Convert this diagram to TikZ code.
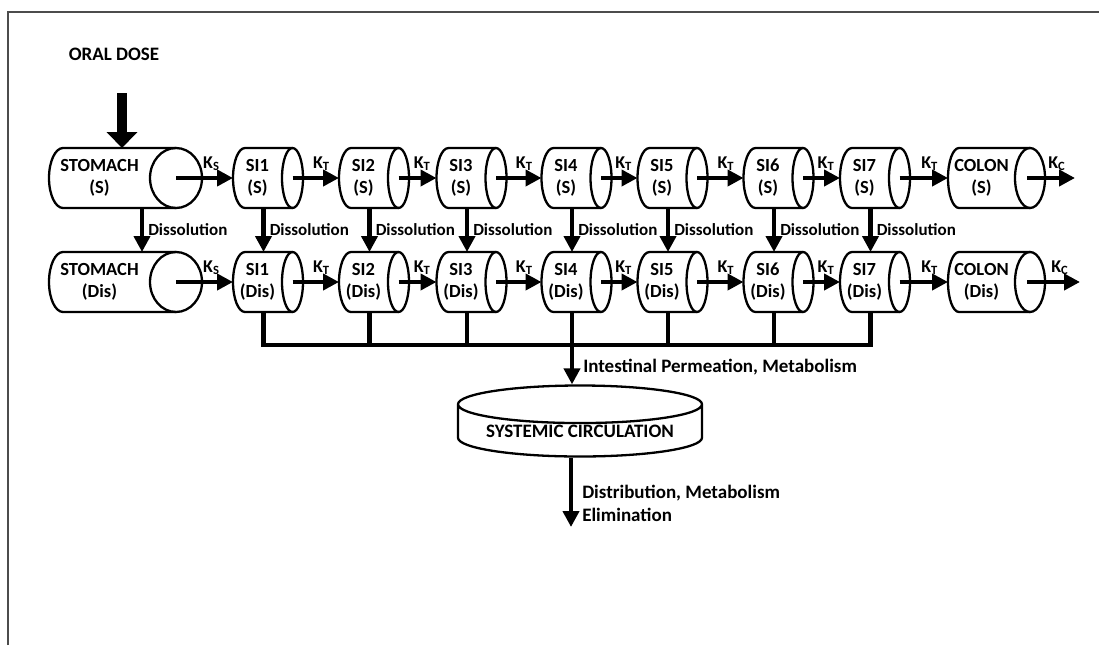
\documentclass[tikz,border=0pt]{standalone}
\usepackage{fontspec}
\setmainfont{Carlito}
\usepackage{tikz}
\usetikzlibrary{shapes.geometric}
\usetikzlibrary{positioning}
\usetikzlibrary{arrows.meta}

\tikzset{
  face/.style={rectangle, inner sep=0pt, outer sep=0pt, align=center, minimum height=60pt,
    font=\bfseries\fontsize{18.5}{22}\selectfont},
  stom/.style={face, minimum width=101pt},
  si/.style={face, minimum width=49pt},
  col/.style={face, minimum width=67pt},
  outline/.style={line width=2.3pt},
  flow/.style={line width=4.5pt, -{Triangle[length=16pt,width=16pt]}},
  big/.style={line width=10pt, -{Triangle[length=16pt,width=30pt]}},
  wire/.style={line width=4.5pt},
  lbl/.style={font=\bfseries\fontsize{17}{20}\selectfont, inner sep=1pt},
  rate/.style={font=\bfseries\fontsize{18}{20}\selectfont, inner sep=1pt},
  note/.style={font=\bfseries\fontsize{19}{23}\selectfont, inner sep=1pt},
}
% #1 node, #2 radius of the back end, #3 radius of the front ellipse
\newcommand\tube[3]{%
  \draw[outline] ([xshift=#3]#1.north east) -- ([xshift=#2]#1.north west)
     arc[start angle=90, end angle=270, x radius=#2, y radius=30pt] -- ([xshift=#3]#1.south east);
  \draw[outline] ([xshift=#3]#1.east) ellipse[x radius=#3, y radius=30pt];
}

\begin{document}
\begin{tikzpicture}[x=1pt, y=-1pt]
   \useasboundingbox (0,0) rectangle (1099,645);
   \draw[gray!60!black, line width=2pt] (8,645) -- (8,12) -- (1099,12);

   \node[note] (dose) at (114,54) {ORAL DOSE};
   \coordinate (dosein) at (122,93);

   \node[stom] (sts) at (99.5,178) {STOMACH\\(S)};
   \node[stom] (std) at (99.5,282) {STOMACH\\(Dis)};
   \tube{sts}{14pt}{26pt}
   \tube{std}{14pt}{26pt}
   \foreach \i/\x in {1/257.5,2/363.5,3/461,4/566,5/662,6/768,7/864.5} {
      \node[si] (s\i) at (\x,178) {SI\i\\(S)};
      \node[si] (d\i) at (\x,282) {SI\i\\(Dis)};
      \tube{s\i}{12pt}{10.5pt}
      \tube{d\i}{12pt}{10.5pt}
   }
   \node[col] (cls) at (981.5,178) {COLON\\(S)};
   \node[col] (cld) at (981.5,282) {COLON\\(Dis)};
   \tube{cls}{11pt}{15pt}
   \tube{cld}{11pt}{15pt}
   \coordinate (outs) at (1075,178);
   \coordinate (outd) at (1080,282);

   \node[cylinder, shape border rotate=90, draw, line width=2.3pt, inner sep=0pt,
      minimum width=244pt, minimum height=71pt, aspect=0.2, anchor=shape center,
      font=\bfseries\fontsize{19}{23}\selectfont] (sys) at (580,421) {SYSTEMIC CIRCULATION};
   \coordinate (busl) at (267,345);
   \coordinate (drain) at (571,527);

   \path (dosein) edge[big] (dosein |- sts.north);

   % transit along both rows
   \path ([xshift=26pt]sts.east) edge[flow] node[rate, above=4pt, pos=.62] {K\textsubscript{S}} (s1.west);
   \path ([xshift=26pt]std.east) edge[flow] node[rate, above=4pt, pos=.62] {K\textsubscript{S}} (d1.west);
   \foreach \a/\b in {1/2,2/3,3/4,4/5,5/6,6/7} {
      \path ([xshift=10.5pt]s\a.east) edge[flow] node[rate, above=4pt, pos=.62] {K\textsubscript{T}} (s\b.west);
      \path ([xshift=10.5pt]d\a.east) edge[flow] node[rate, above=4pt, pos=.62] {K\textsubscript{T}} (d\b.west);
   }
   \path ([xshift=10.5pt]s7.east) edge[flow] node[rate, above=4pt, pos=.62] {K\textsubscript{T}} (cls.west);
   \path ([xshift=10.5pt]d7.east) edge[flow] node[rate, above=4pt, pos=.62] {K\textsubscript{T}} (cld.west);
   \path ([xshift=12pt]cls.east) edge[flow] node[rate, above=4pt, pos=.62] {K\textsubscript{C}} (outs);
   \path ([xshift=12pt]cld.east) edge[flow] node[rate, above=4pt, pos=.62] {K\textsubscript{C}} (outd);

   % dissolution
   \path ([xshift=-8pt]sts.south east) edge[flow] node[lbl, right=3pt] {Dissolution} ([xshift=-8pt]std.north east);
   \foreach \i in {1,...,7}
      \path ([xshift=6pt]s\i.south) edge[flow] node[lbl, right=3pt] {Dissolution} ([xshift=6pt]d\i.north);

   % absorption
   \draw[wire] ([xshift=6pt]d1.south) -- ([xshift=6pt]d1.south |- busl) -- ([xshift=6pt]d7.south |- busl) -- ([xshift=6pt]d7.south);
   \foreach \i in {2,...,6}
      \draw[wire] ([xshift=6pt]d\i.south) -- ([xshift=6pt]d\i.south |- busl);
   \path ([xshift=6pt]d4.south |- busl) edge[flow] node[note, right=8pt, pos=.55] {Intestinal Permeation, Metabolism} ([xshift=6pt]d4.south |- sys.top);
   \path ([xshift=-9pt]sys.bottom) edge[flow] node[note, right=8pt, pos=.66, align=left] {Distribution, Metabolism\\Elimination} (drain);
\end{tikzpicture}
\end{document}
